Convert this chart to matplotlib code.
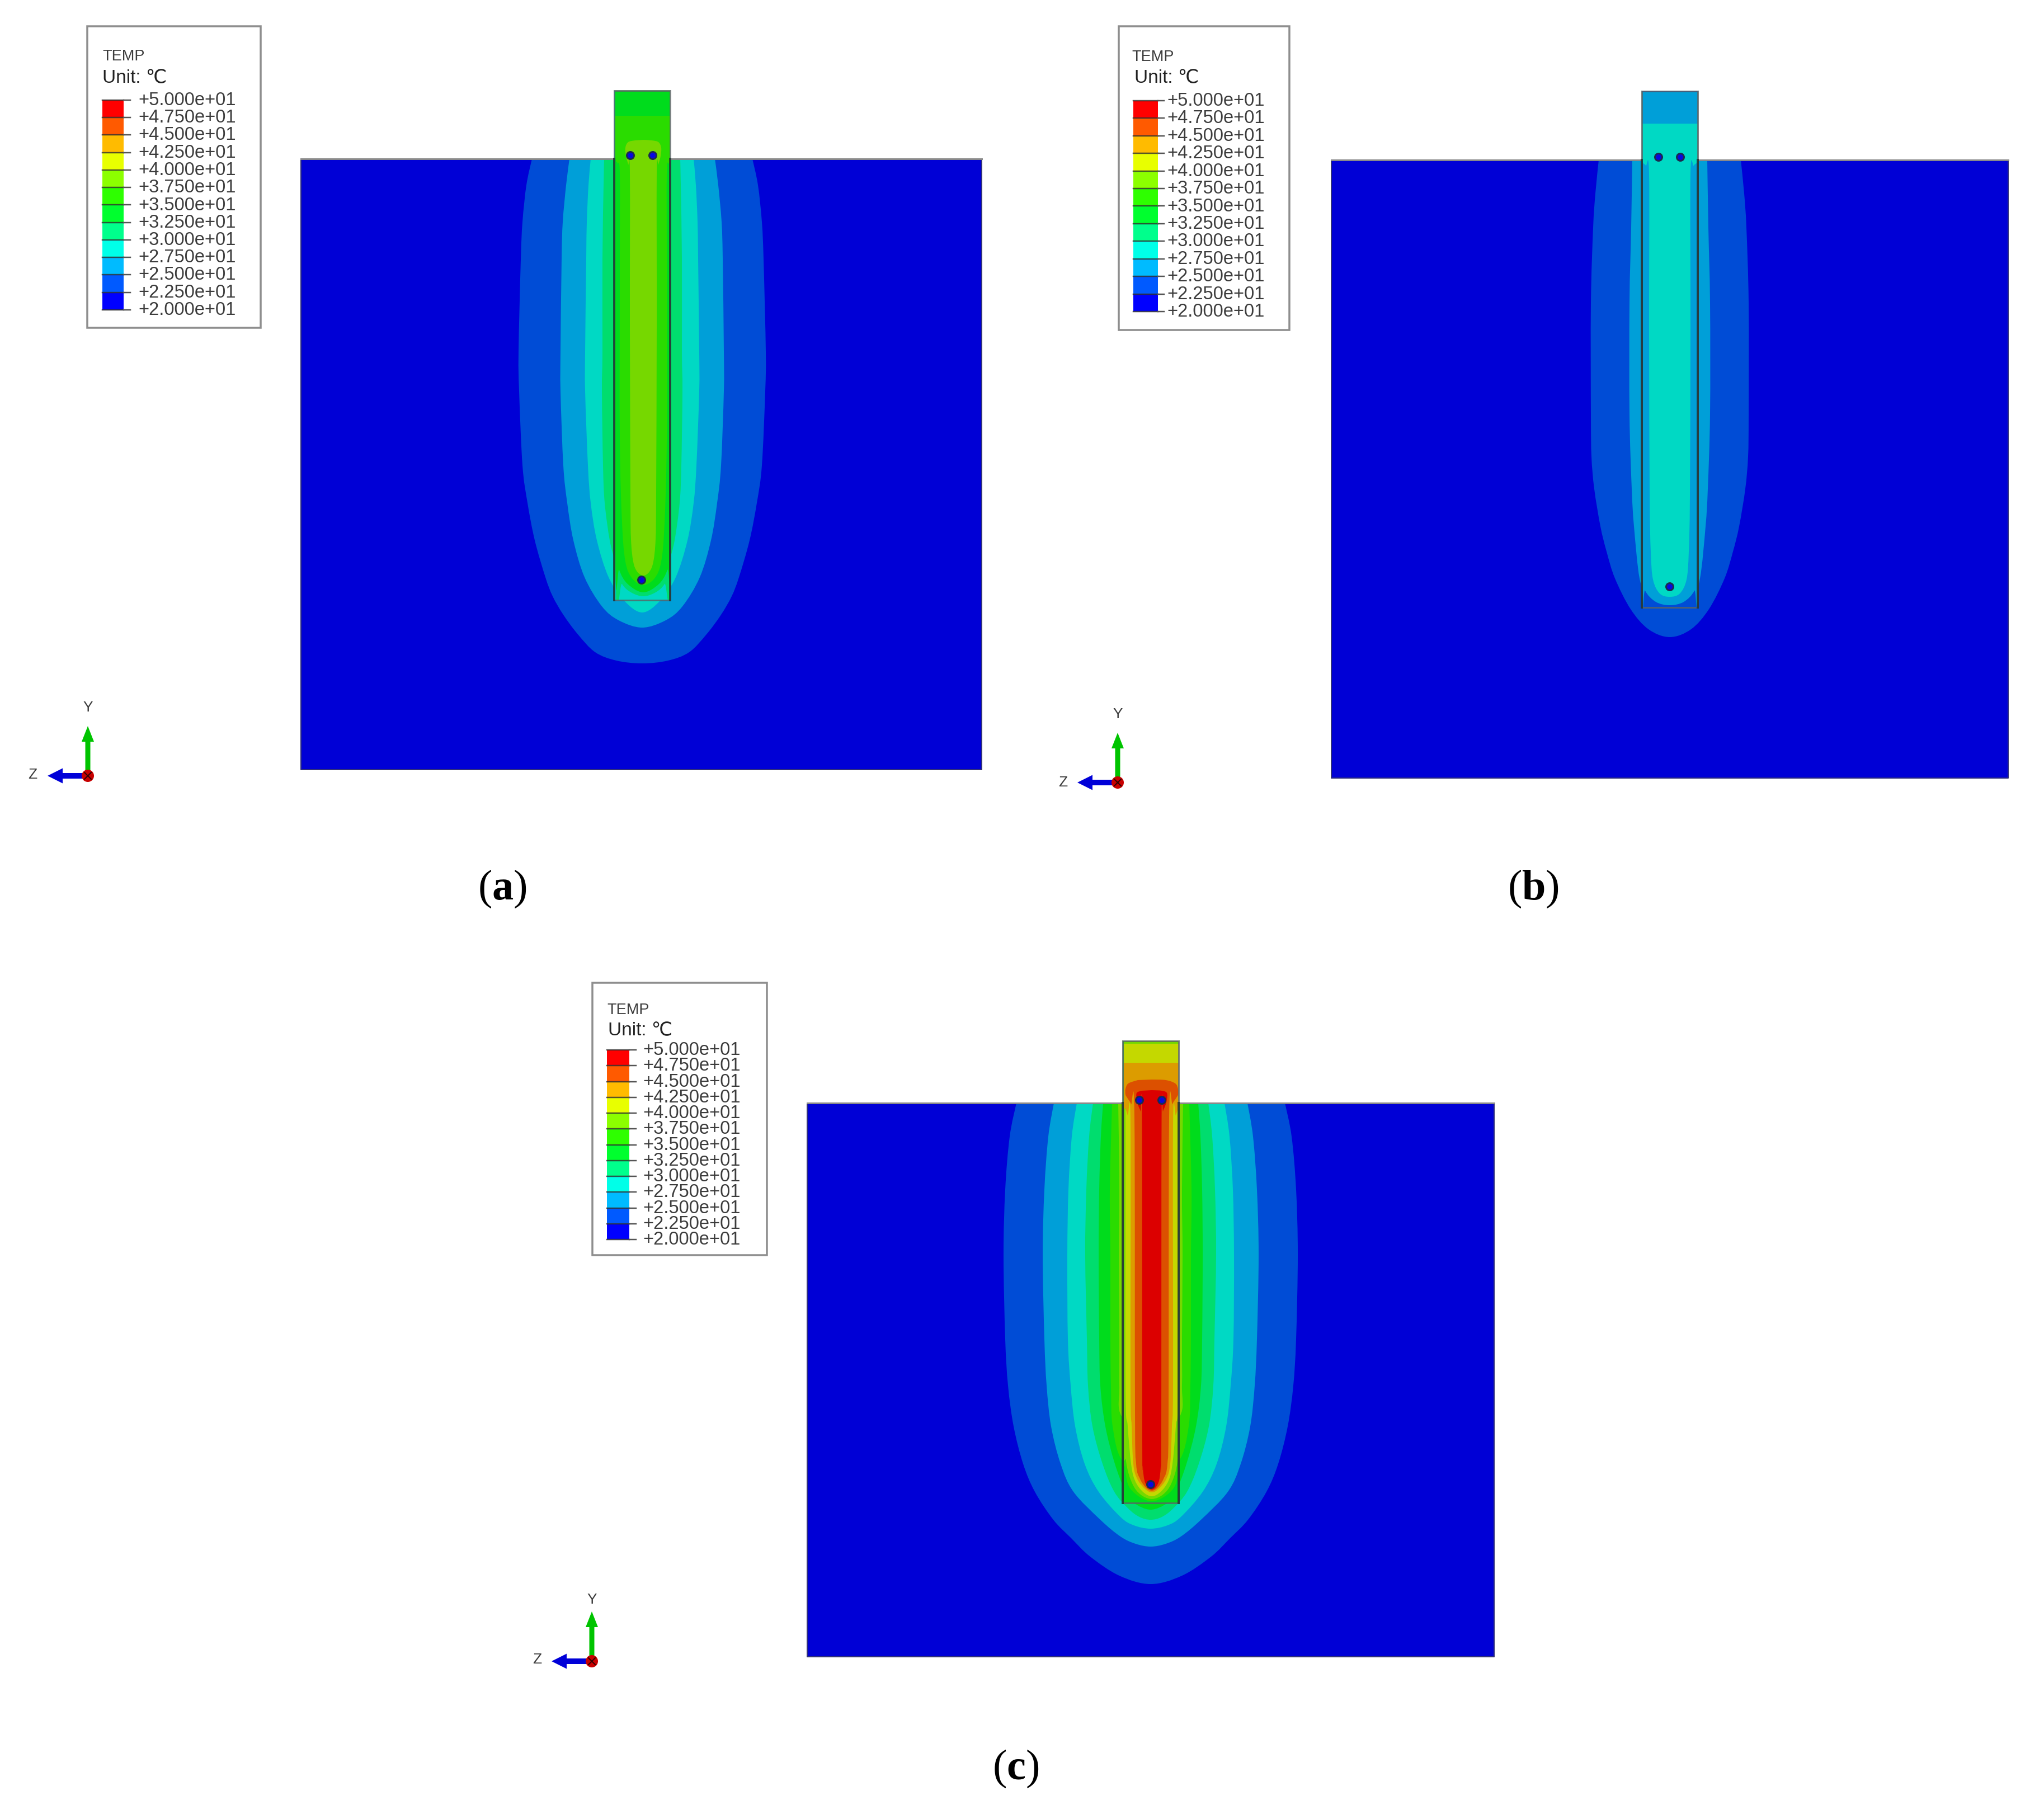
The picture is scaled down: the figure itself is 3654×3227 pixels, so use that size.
import matplotlib
matplotlib.use("Agg")
import matplotlib.pyplot as plt
from matplotlib.path import Path
from matplotlib.patches import PathPatch, Rectangle, Circle, FancyArrow

plt.rcParams['mathtext.fontset'] = 'custom'
plt.rcParams['mathtext.rm'] = 'Liberation Serif'
plt.rcParams['mathtext.bf'] = 'Liberation Serif:bold'

# Temperature scale of the contour legend
LEVELS = [50.0, 47.5, 45.0, 42.5, 40.0, 37.5, 35.0, 32.5, 30.0, 27.5, 25.0, 22.5, 20.0]
LEGEND_COLORS = ['#FF0000', '#FF5A00', '#FFBB00', '#E8FF00', '#8CFF00', '#2EFF00',
                 '#00FF2E', '#00FF8C', '#00FFE8', '#00BBFF', '#005AFF', '#0000FF']

# Colours of the contour bands as rendered
DEEP, BLUE, LBLUE, CYAN, SEA, GREEN, GREEN2, YGREEN, YELLOW, ORANGE, RORANGE, RED = (
    '#0000D6', '#004CD6', '#009FD8', '#00D9C4', '#00DD6E', '#00DC1C',
    '#2ADC00', '#76D800', '#C4D800', '#DC9C00', '#DC5000', '#DC0000')

# Panel a: contour outlines as (depth below surface, half width), soil
A_BLUE = [(0, 197), (47, 207), (113, 214), (180, 217), (345, 221), (415, 220), (548, 214),
          (615, 205), (682, 192), (748, 173), (782, 160), (815, 141), (850, 115), (882, 84),
          (897, 46), (902, 0)]
A_LBLUE = [(0, 130), (47, 136), (113, 142), (178, 144), (345, 146), (415, 146), (548, 141),
           (615, 134), (682, 123), (748, 103), (800, 72), (825, 42), (838, 0)]
A_CYAN = [(0, 92), (47, 96), (113, 99), (178, 100), (345, 102), (415, 102), (548, 97),
          (615, 92), (682, 81), (748, 60), (790, 32), (811, 0)]
A_SEA = [(0, 68), (47, 69), (178, 71), (345, 71), (415, 72), (548, 70), (615, 67), (682, 58),
         (720, 48), (740, 40), (760, 0)]
# Panel a: pile interior
A_P_SEA = [(-123, 50), (730, 50), (760, 38), (775, 22), (782, 0)]
A_P_GREEN = [(-123, 50), (700, 50), (735, 43), (760, 28), (775, 0)]
A_P_GREEN2 = [(-77, 50), (-5, 50), (8, 46), (25, 42), (200, 42), (500, 42), (650, 38),
              (720, 32), (750, 20), (762, 0)]
A_P_YGREEN = [(-34, 0), (-33, 15), (-30, 27), (-20, 32), (-5, 31), (10, 27), (25, 24),
              (300, 24), (600, 23), (680, 22), (720, 18), (738, 11), (745, 0)]

# Panel b: soil
B_BLUE = [(0, 127), (60, 133), (121, 137), (255, 141), (455, 141), (530, 140), (588, 135),
          (655, 124), (700, 113), (748, 98), (803, 70), (839, 38), (853, 0)]
B_LBLUE = [(0, 67), (121, 69), (255, 72), (455, 72), (588, 68), (655, 64), (748, 54),
           (775, 40), (790, 0)]
# Panel b: pile interior
B_P_LBLUE = [(-122, 50), (740, 50), (770, 44), (790, 25), (796, 0)]
B_P_CYAN = [(-65, 50), (-3, 50), (10, 43), (25, 37), (300, 37), (600, 36), (700, 34),
            (750, 30), (775, 18), (781, 0)]

# Panel c: soil
C_BLUE = [(0, 240), (60, 252), (155, 260), (272, 263), (422, 260), (505, 255), (578, 245),
          (645, 228), (695, 207), (745, 174), (778, 142), (811, 108), (845, 56), (860, 0)]
C_LBLUE = [(0, 173), (60, 183), (155, 190), (272, 193), (422, 190), (505, 186), (578, 178),
           (645, 161), (695, 138), (745, 90), (775, 54), (788, 27), (793, 0)]
C_CYAN = [(0, 132), (60, 141), (155, 147), (272, 149), (422, 148), (505, 143), (578, 135),
          (645, 118), (695, 93), (740, 54), (755, 30), (761, 0)]
C_SEA = [(0, 103), (60, 110), (155, 115), (272, 117), (422, 114), (505, 112), (578, 104),
         (645, 86), (695, 65), (725, 40), (740, 20), (745, 0)]
C_GREEN = [(0, 85), (60, 89), (155, 92), (272, 93), (422, 92), (505, 90), (578, 81), (645, 64),
           (695, 45), (715, 30), (727, 0)]
C_GREEN2 = [(0, 69), (155, 73), (272, 72), (422, 72), (505, 71), (578, 68), (640, 50), (660, 0)]
C_YGREEN = [(0, 58), (155, 56), (272, 57), (422, 56), (505, 56), (560, 52), (600, 0)]
# Panel c: pile interior
C_P_GREEN2 = [(-111, 50), (600, 50), (650, 48), (690, 38), (712, 0)]
C_P_YGREEN = [(-111, 50), (560, 50), (640, 46), (680, 35), (700, 20), (708, 0)]
C_P_YELLOW = [(-106, 50), (0, 49), (10, 47), (500, 47), (578, 43), (645, 37), (675, 30),
              (695, 16), (703, 0)]
C_P_ORANGE = [(-72, 50), (3, 50), (10, 47), (22, 43), (38, 38), (500, 38), (578, 36), (645, 33),
              (672, 26), (690, 12), (696, 0)]
C_P_RORANGE = [(-42, 0), (-41, 25), (-35, 42), (-25, 47), (-15, 47), (-8, 43), (2, 37),
               (25, 31), (550, 30), (645, 28), (672, 21), (688, 10), (693, 0)]
C_P_RED = [(-23, 0), (-22, 18), (-18, 27), (-6, 27), (5, 24), (15, 20), (30, 17.5), (600, 17),
           (650, 16), (675, 13), (687, 7), (691, 0)]

PANELS = [
    dict(block=(538, 284, 1755, 1376), cx=1148, pile=(162, 1073), bg=CYAN, shift=2,
         soil=[(BLUE, A_BLUE), (LBLUE, A_LBLUE), (CYAN, A_CYAN), (SEA, A_SEA)],
         inner=[(SEA, A_P_SEA), (GREEN, A_P_GREEN), (GREEN2, A_P_GREEN2), (YGREEN, A_P_YGREEN)],
         dots=[(-21, 278), (19, 278), (-1, 1037)],
         legend=dict(box=(156, 47, 466, 586), bar=(183, 221, 233), rows=(179, 554),
                     text_x=247, temp=(183, 101), unit=(183, 140)),
         triad=dict(o=(157, 1387), y=(157, 1265), z=(58, 1385)),
         caption=(r'($\mathbf{a}$)', 898, 1608)),
    dict(block=(2380, 286, 3590, 1391), cx=2985, pile=(163, 1086), bg=BLUE, shift=0,
         soil=[(BLUE, B_BLUE), (LBLUE, B_LBLUE)],
         inner=[(LBLUE, B_P_LBLUE), (CYAN, B_P_CYAN)],
         dots=[(-20, 281), (19, 281), (0, 1049)],
         legend=dict(box=(2000, 47, 2305, 590), bar=(2026, 2070, 2081), rows=(180, 557),
                     text_x=2086, temp=(2023, 102), unit=(2028, 140)),
         triad=dict(o=(1998, 1399), y=(1998, 1277), z=(1900, 1399)),
         caption=(r'($\mathbf{b}$)', 2741, 1608)),
    dict(block=(1443, 1972, 2671, 2962), cx=2057, pile=(1861, 2687), bg=GREEN, shift=2,
         soil=[(BLUE, C_BLUE), (LBLUE, C_LBLUE), (CYAN, C_CYAN), (SEA, C_SEA),
               (GREEN, C_GREEN), (GREEN2, C_GREEN2), (YGREEN, C_YGREEN)],
         inner=[(GREEN2, C_P_GREEN2), (YGREEN, C_P_YGREEN), (YELLOW, C_P_YELLOW),
                (ORANGE, C_P_ORANGE), (RORANGE, C_P_RORANGE), (RED, C_P_RED)],
         dots=[(-20, 1967), (20, 1967), (0, 2654)],
         legend=dict(box=(1059, 1757, 1371, 2244), bar=(1085, 1125, 1137), rows=(1877, 2216),
                     text_x=1149, temp=(1085, 1806), unit=(1087, 1843)),
         triad=dict(o=(1058, 2970), y=(1058, 2860), z=(960, 2967)),
         caption=(r'($\mathbf{c}$)', 1816, 3181)),
]

PX = 0.72  # one pixel in points at dpi 100
TEXT_FAMILY = ['Liberation Sans', 'DejaVu Sans', 'Noto Sans CJK SC']

fig = plt.figure(figsize=(36.55, 32.27), dpi=100, facecolor='white')
ax = fig.add_axes([0, 0, 1, 1])
ax.set_xlim(0, 3655)
ax.set_ylim(3227, 0)
ax.axis('off')


def smooth_side(points):
    """Bezier segments (Catmull-Rom) through the given points."""
    verts, codes = [], []
    n = len(points)
    for i in range(n - 1):
        p0 = points[max(i - 1, 0)]
        p1 = points[i]
        p2 = points[i + 1]
        p3 = points[min(i + 2, n - 1)]
        c1 = (p1[0] + (p2[0] - p0[0]) / 6, p1[1] + (p2[1] - p0[1]) / 6)
        c2 = (p2[0] - (p3[0] - p1[0]) / 6, p2[1] - (p3[1] - p1[1]) / 6)
        verts += [c1, c2, p2]
        codes += [Path.CURVE4] * 3
    return verts, codes


def band(outline, cx, surface, color, clip=None, z=2):
    right = [(cx + h, surface + d) for d, h in outline]
    left = [(cx - h, surface + d) for d, h in reversed(outline) if h > 0]
    pts = right + left
    v, c = smooth_side(pts)
    verts = [pts[0]] + v + [pts[0]]
    codes = [Path.MOVETO] + c + [Path.CLOSEPOLY]
    patch = PathPatch(Path(verts, codes), facecolor=color, edgecolor='none', zorder=z)
    ax.add_patch(patch)
    if clip is not None:
        patch.set_clip_path(clip)
    return patch


def draw_panel(p):
    x0, y0, x1, y1 = p['block']
    cx = p['cx']
    top, bottom = p['pile']
    block = Rectangle((x0, y0), x1 - x0, y1 - y0, facecolor=DEEP, edgecolor='none', zorder=1)
    ax.add_patch(block)
    for color, outline in p['soil']:
        band(outline, cx, y0, color, clip=block)
    ax.plot([x0, x0, x1, x1], [y0, y1, y1, y0], color='#30307a', lw=2 * PX, zorder=3)
    ax.plot([x0, x1], [y0, y0], color='#8a8a8a', lw=3 * PX, zorder=3)

    pile = Rectangle((cx - 50, top), 100, bottom - top, facecolor=p['bg'], edgecolor='none', zorder=4)
    ax.add_patch(pile)
    for color, outline in p['inner']:
        band(outline, cx + p['shift'], y0, color, clip=pile, z=5)
    ax.add_patch(Rectangle((cx - 50, top), 100, bottom - top, facecolor='none',
                           edgecolor='#5a6464', alpha=0.8, lw=3 * PX, zorder=6))
    ax.plot([cx - 50, cx - 50], [y0, bottom], color='#1c2c2c', alpha=0.75, lw=4 * PX, zorder=6)
    ax.plot([cx + 50, cx + 50], [y0, bottom], color='#1c2c2c', alpha=0.75, lw=4 * PX, zorder=6)
    for off, yy in [(q[0], q[1]) for q in p['dots']]:
        ax.add_patch(Circle((cx + off, yy), 8, facecolor='#1c2a50', edgecolor='none', zorder=7))
        ax.add_patch(Circle((cx + off, yy), 5, facecolor='#0808E0', edgecolor='none', zorder=8))


def draw_legend(p):
    g = p['legend']
    bx0, by0, bx1, by1 = g['box']
    ax.add_patch(Rectangle((bx0, by0), bx1 - bx0, by1 - by0, facecolor='white',
                           edgecolor='#8e8e8e', lw=3.5 * PX, zorder=2))
    ax.text(*g['temp'], 'TEMP', family=TEXT_FAMILY, fontsize=19.5, color='#3c3c3c',
            ha='left', va='center', zorder=3)
    ax.text(*g['unit'], 'Unit: \u2103', family=TEXT_FAMILY, fontsize=24, color='#222222',
            ha='left', va='center', zorder=3)
    left, right, tick = g['bar']
    rtop, rbot = g['rows']
    to_y = lambda v: rtop + (LEVELS[0] - v) / (LEVELS[0] - LEVELS[-1]) * (rbot - rtop)
    for i, color in enumerate(LEGEND_COLORS):
        ya, yb = to_y(LEVELS[i]), to_y(LEVELS[i + 1])
        ax.add_patch(Rectangle((left, ya), right - left, yb - ya, facecolor=color,
                               edgecolor='none', zorder=3))
    for v in LEVELS:
        yy = to_y(v)
        ax.plot([left, right], [yy, yy], color='#303030', lw=2.5 * PX, alpha=0.8, zorder=4)
        ax.plot([right, tick], [yy, yy], color='#555555', lw=2.5 * PX, zorder=4)
        ax.text(g['text_x'], yy - 3, f'{v:+.3e}', family=TEXT_FAMILY, fontsize=23.5,
                color='#3c3c3c', ha='left', va='center_baseline', zorder=4)


def draw_triad(p):
    t = p['triad']
    ox, oy = t['o']
    ax.add_patch(FancyArrow(ox, oy, 0, -89, width=9, head_width=22, head_length=28,
                            length_includes_head=True, facecolor='#00C400', edgecolor='none', zorder=3))
    ax.add_patch(FancyArrow(ox, oy, -72, 0, width=10, head_width=27, head_length=27,
                            length_includes_head=True, facecolor='#0000D8', edgecolor='none', zorder=3))
    ax.add_patch(Circle((ox, oy), 11, facecolor='#C80000', edgecolor='none', zorder=4))
    ax.plot([ox - 6, ox + 6], [oy - 6, oy + 6], color='#300000', lw=2 * PX, zorder=5)
    ax.plot([ox - 6, ox + 6], [oy + 6, oy - 6], color='#300000', lw=2 * PX, zorder=5)
    ax.text(*t['y'], 'Y', family=TEXT_FAMILY, fontsize=19, color='#3c3c3c', ha='center', va='center')
    ax.text(*t['z'], 'Z', family=TEXT_FAMILY, fontsize=19, color='#3c3c3c', ha='center', va='center')


for panel in PANELS:
    draw_panel(panel)
    draw_legend(panel)
    draw_triad(panel)
    label, lx, ly = panel['caption']
    ax.text(lx, ly, label, family='Liberation Serif', fontsize=55,
            color='black', ha='center', va='baseline')

fig.savefig('out.png', dpi=100, facecolor='white')
